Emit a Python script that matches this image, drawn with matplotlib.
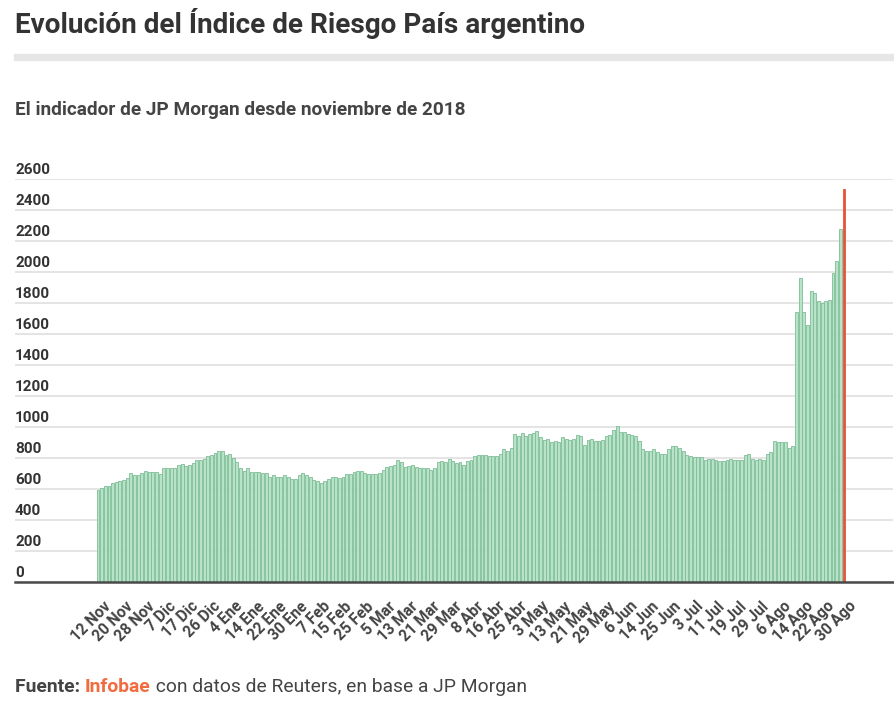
import matplotlib
matplotlib.use("Agg")
import matplotlib.pyplot as plt
from matplotlib.transforms import blended_transform_factory, offset_copy, ScaledTranslation

# ---- data ----
valores = [
    596, 607, 622, 622, 636, 644, 651, 660, 669, 700, 693, 691, 700, 716, 709, 709, 709, 698,
    733, 733, 733, 733, 756, 762, 747, 756, 769, 787, 789, 796, 811, 822, 833,
    844, 844, 818, 827, 800, 771, 733, 718, 733, 709, 709, 709, 700, 700, 678, 691, 676, 676,
    691, 676, 667, 667, 691, 700, 691, 676, 660, 651, 636, 651, 667, 676,
    676, 671, 677, 697, 697, 710, 718, 718, 703, 697, 697, 697, 703, 725, 742, 746, 757, 789,
    772, 742, 751, 755, 742, 733, 733, 733, 725, 733, 772, 781, 772, 794, 781,
    768, 775, 758, 781, 789, 811, 821, 821, 821, 811, 811, 811, 827, 857, 848, 863, 954, 941,
    962, 941, 954, 962, 971, 933, 916, 924, 903, 909, 903, 933, 924, 916, 924, 947,
    941, 886, 916, 924, 909, 909, 916, 941, 947, 983, 1008, 968, 968, 954, 947, 941, 909, 857,
    848, 848, 857, 840, 825, 825, 857, 880, 880, 863, 842, 817, 811, 804, 804,
    804, 789, 796, 796, 785, 781, 781, 789, 796, 789, 789, 789, 821, 827, 796, 789, 796, 785,
    827, 836, 909, 903, 903,
    903, 864, 879, 1745, 1959, 1745, 1656, 1880, 1865, 1810, 1799, 1810, 1820, 1991, 2073,
    2276, 2537,
]
etiquetas = [
    "12 Nov", "20 Nov", "28 Nov", "7 Dic", "17 Dic", "26 Dic", "4 Ene", "14 Ene", "22 Ene",
    "30 Ene", "7 Feb", "15 Feb", "25 Feb", "5 Mar", "13 Mar", "21 Mar", "29 Mar", "8 Abr",
    "16 Abr", "25 Abr", "3 May", "13 May", "21 May", "29 May", "6 Jun", "14 Jun", "25 Jun",
    "3 Jul", "11 Jul", "19 Jul", "29 Jul", "6 Ago", "14 Ago", "22 Ago", "30 Ago",
]
y_ticks = list(range(0, 2601, 200))
paso_etiquetas = 6

titulo = "Evolución del Índice de Riesgo País argentino"
subtitulo = "El indicador de JP Morgan desde noviembre de 2018"

# ---- figure ----
plt.rcParams['font.family'] = ['Roboto', 'DejaVu Sans']
W, H = 894, 708
fig = plt.figure(figsize=(W / 100, H / 100), dpi=100)
fig.patch.set_facecolor("white")

def fx(px):
    return px / W

def fy(py):
    return 1 - py / H

ax = fig.add_axes([fx(15), fy(582), fx(893) - fx(15), fy(179) - fy(582)])
n = len(valores)
xs = list(range(n))
colores = ['#b9e3c8'] * (n - 1) + ['#e4553a']
bordes = ['#7dbd96'] * (n - 1) + ['#e4553a']
anchos = [0.8] * (n - 1) + [0.65]
ax.bar(xs, valores, width=anchos, color=colores, edgecolor=bordes, linewidth=0.6, zorder=3)

x0 = (15 - 98) / 3.657
x1 = (n - 1) + (893 - 844) / 3.657
ax.set_xlim(x0, x1)
ax.set_ylim(0, 2600)

for s in ax.spines.values():
    s.set_visible(False)
ax.set_yticks(y_ticks)
ax.set_yticklabels([])
ax.tick_params(axis='y', length=0)
ax.grid(axis='y', color='#dcdcdc', linewidth=1.1, zorder=0)
ax.axhline(0, color='#4a4a4a', linewidth=1.8, zorder=5, clip_on=False)

ax.set_xticks(xs[::paso_etiquetas])
ax.set_xticklabels(etiquetas, rotation=45, ha='right', rotation_mode='anchor',
                   fontsize=11.2, fontweight='bold', color='#444444')
ax.tick_params(axis='x', length=0, pad=12)
desplaza = ScaledTranslation(5 / 100, 0, fig.dpi_scale_trans)
for lbl in ax.get_xticklabels():
    lbl.set_transform(lbl.get_transform() + desplaza)

tr = blended_transform_factory(fig.transFigure, ax.transData)
tr = offset_copy(tr, fig=fig, x=0, y=5, units='dots')
for v in y_ticks:
    ax.text(fx(15), v, str(v), transform=tr, ha='left', va='baseline',
            fontsize=11, fontweight='bold', color='#333333', clip_on=False)

# title, rule, subtitle
fig.text(fx(15), fy(33), titulo, ha='left', va='baseline', fontsize=20.1,
         fontweight='bold', color='#333333')
fig.patches.append(plt.Rectangle((fx(14), fy(60)), fx(894) - fx(14), fy(54) - fy(60),
                                 transform=fig.transFigure, color='#e6e6e6', zorder=1))
fig.text(fx(15), fy(115), subtitulo, ha='left', va='baseline', fontsize=13.7,
         fontweight='bold', color='#444444')

# footer
renderer = fig.canvas.get_renderer()
partes = [("Fuente: ", 'bold', '#444444'), ("Infobae", 'bold', '#f26b3f'),
          (" con datos de Reuters, en base a JP Morgan", 'normal', '#444444')]
xpos = 15
for txt, w, c in partes:
    t = fig.text(fx(xpos), fy(692), txt, ha='left', va='baseline', fontsize=13.9,
                 fontweight=w, color=c)
    bb = t.get_window_extent(renderer=renderer)
    xpos += bb.width

fig.savefig("out.png", dpi=100, facecolor="white")
